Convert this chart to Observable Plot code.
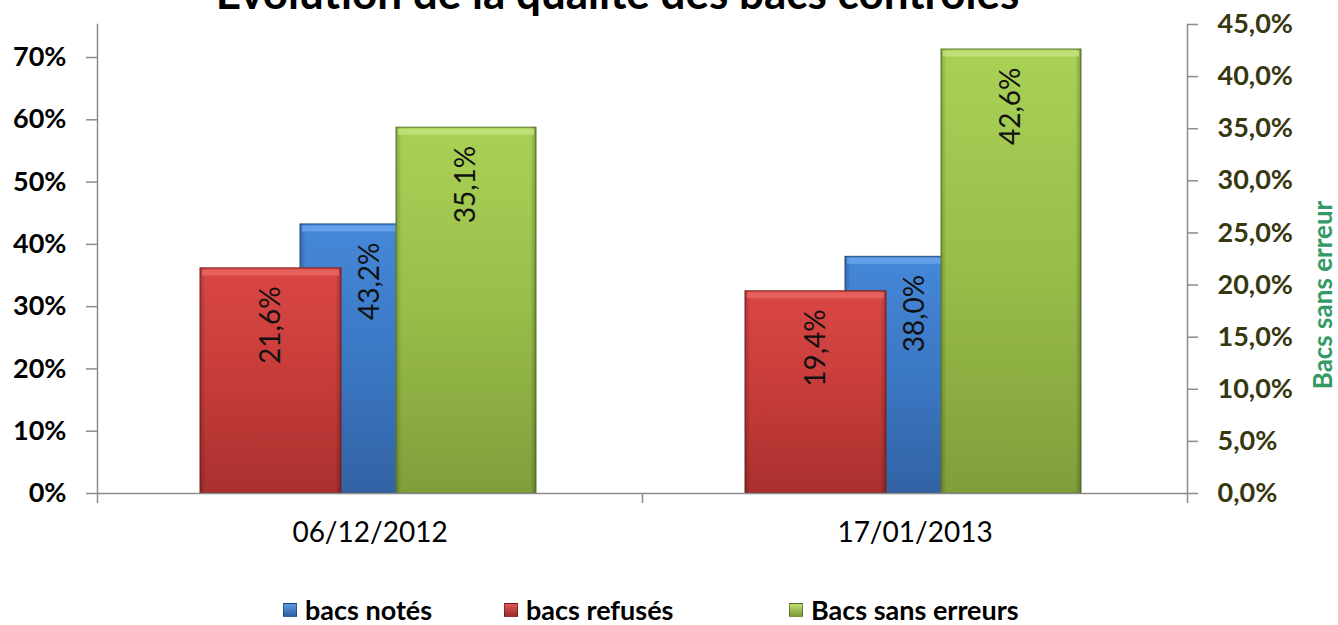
<!DOCTYPE html>
<html><head><meta charset="utf-8">
<script src="https://cdn.jsdelivr.net/npm/d3@7"></script>
<script src="https://cdn.jsdelivr.net/npm/@observablehq/plot@0.6"></script>
<style>
body{margin:0;background:#fff;font-family:Lato,"Open Sans",sans-serif;}
#wrap{position:relative;width:1338px;height:625px;overflow:hidden;}
#title{position:absolute;left:0;width:1235px;text-align:center;top:-30px;font-size:44px;line-height:44px;font-weight:700;color:#000;white-space:nowrap;}
#chart{position:absolute;left:0;top:0;}
.leg{position:absolute;top:597px;height:26px;display:flex;align-items:center;font-size:27px;font-weight:700;line-height:26px;color:#000;white-space:nowrap;}
.sw{width:14px;height:14px;margin-right:8px;box-sizing:border-box;border:1px solid rgba(0,0,0,0.35);}
</style></head><body>
<div id="wrap"><div id="title">Évolution de la qualité des bacs contrôlés</div><div id="chart"></div></div>
<script>
// ---- data ----
const categories = ["06/12/2012", "17/01/2013"];
const bacsNotes = [0.432, 0.380];        // primary (left) axis
const bacsRefuses = [0.216, 0.194];      // secondary (right) axis
const bacsSansErreurs = [0.351, 0.426];  // secondary (right) axis
const leftTicks = [0, 0.1, 0.2, 0.3, 0.4, 0.5, 0.6, 0.7];
const rightTicks = [0, 0.05, 0.1, 0.15, 0.2, 0.25, 0.3, 0.35, 0.4, 0.45];
const leftMax = 0.753;
const rightMax = 0.45;
const seriesNames = ["bacs notés", "bacs refusés", "Bacs sans erreurs"];
const rightAxisTitle = "Bacs sans erreur";

// ---- helpers ----
const k = leftMax / rightMax; // secondary -> primary units
const loc = d3.formatLocale({decimal: ",", thousands: " ", grouping: [3], currency: ["", " €"]});
const fmt1 = loc.format(".1%");
const fmt0 = loc.format(".0%");

const series = [
  {name: seriesNames[0], values: bacsNotes, scale: 1, grad: "gBlue", stroke: "#27507f", hi: "#6ea8ec", il: 203, ir: 202, dx: 0},
  {name: seriesNames[1], values: bacsRefuses, scale: k, grad: "gRed", stroke: "#7d2322", hi: "#e86a67", il: 103, ir: 301, dx: -99},
  {name: seriesNames[2], values: bacsSansErreurs, scale: k, grad: "gGreen", stroke: "#5f7a28", hi: "#c6e482", il: 299, ir: 106, dx: 96.5}
];

const marks = [];
for (const s of series) {
  const rows = categories.map((c, i) => ({cat: c, v: s.values[i], y: s.values[i] * s.scale}));
  marks.push(Plot.barY(rows, {x: "cat", y1: 0, y2: "y", fill: `url(#${s.grad})`, stroke: s.stroke, strokeWidth: 1, insetLeft: s.il, insetRight: s.ir}));
  marks.push(Plot.barY(rows, {x: "cat", y1: 0, y2: "y", fill: "url(#gEdge)", insetLeft: s.il, insetRight: s.ir}));
  marks.push(Plot.tickY(rows, {x: "cat", y: "y", stroke: s.hi, strokeWidth: 6, strokeOpacity: 0.75, dy: 4, insetLeft: s.il + 2, insetRight: s.ir + 2}));
  s.rows = rows;
}
for (const s of series) {
  marks.push(Plot.text(s.rows, {x: "cat", y: "y", text: d => fmt1(d.v), rotate: -90, textAnchor: "end", dy: 18, dx: s.dx, fontSize: 28, fill: "#111"}));
}

const axisGray = "#8c8c8c";
const plot = Plot.plot({
  width: 1338,
  height: 590,
  marginLeft: 97,
  marginRight: 151,
  marginTop: 24,
  marginBottom: 97,
  style: {fontFamily: "Lato, 'Open Sans', sans-serif", background: "transparent"},
  x: {domain: categories, padding: 0},
  y: {domain: [0, leftMax]},
  marks: [
    ...marks,
    Plot.ruleY([0], {stroke: axisGray, strokeWidth: 1.5}),
    Plot.frame({anchor: "left", stroke: axisGray, strokeWidth: 1.5}),
    Plot.frame({anchor: "right", stroke: axisGray, strokeWidth: 1.5}),
    Plot.axisY(leftTicks, {anchor: "left", tickSize: 11, tickPadding: 20, tickFormat: fmt0, fontSize: 27, fontWeight: "bold", fill: "#000", stroke: axisGray, strokeWidth: 1.5, label: null}),
    Plot.axisY(rightTicks.map(t => t * k), {anchor: "right", tickSize: 10, tickPadding: 20, tickFormat: d => fmt1(d / k), fontSize: 27, fontWeight: "bold", fill: "#383810", stroke: axisGray, strokeWidth: 1.5, label: null}),
    Plot.axisX({anchor: "bottom", tickSize: 10, tickFormat: () => "", dx: -272.5, stroke: axisGray, strokeWidth: 1.5, label: null}),
    Plot.axisX([categories[categories.length - 1]], {anchor: "bottom", tickSize: 10, tickFormat: () => "", dx: 272.5, stroke: axisGray, strokeWidth: 1.5, label: null}),
    Plot.axisX({anchor: "bottom", tickSize: 0, tickPadding: 29, fontSize: 28, fill: "#000", label: null}),
    Plot.text([rightAxisTitle], {frameAnchor: "right", textAnchor: "middle", dx: 136, dy: 36, rotate: -90, fill: "#339966", fontSize: 26, fontWeight: "bold"})
  ]
});

// gradients
const defs = d3.select(plot).insert("defs", ":first-child");
function grad(id, stops, horiz) {
  const g = defs.append("linearGradient").attr("id", id)
    .attr("x1", 0).attr("y1", 0).attr("x2", horiz ? 1 : 0).attr("y2", horiz ? 0 : 1);
  for (const [o, c, op] of stops) g.append("stop").attr("offset", o).attr("stop-color", c).attr("stop-opacity", op ?? 1);
}
grad("gRed", [[0, "#da4745"], [0.5, "#c63c3a"], [1, "#a9302f"]]);
grad("gBlue", [[0, "#4587d8"], [0.5, "#3b78c4"], [1, "#3262a4"]]);
grad("gGreen", [[0, "#a9d156"], [0.5, "#98bd49"], [1, "#809f3b"]]);
grad("gEdge", [[0, "#000", 0.2], [0.04, "#000", 0], [0.96, "#000", 0], [1, "#000", 0.25]], true);

document.getElementById("chart").appendChild(plot);

// legend
const legendItems = [
  {name: seriesNames[0], left: 283, css: "linear-gradient(#5b9be6,#2f5f9e)"},
  {name: seriesNames[1], left: 504, css: "linear-gradient(#e25552,#9e2e2c)"},
  {name: seriesNames[2], left: 789, css: "linear-gradient(#bfe070,#7d9b38)"}
];
const wrap = document.getElementById("wrap");
for (const it of legendItems) {
  const d = document.createElement("div");
  d.className = "leg";
  d.style.left = it.left + "px";
  const sw = document.createElement("span");
  sw.className = "sw";
  sw.style.background = it.css;
  d.appendChild(sw);
  d.appendChild(document.createTextNode(it.name));
  wrap.appendChild(d);
}
</script>
</body></html>
